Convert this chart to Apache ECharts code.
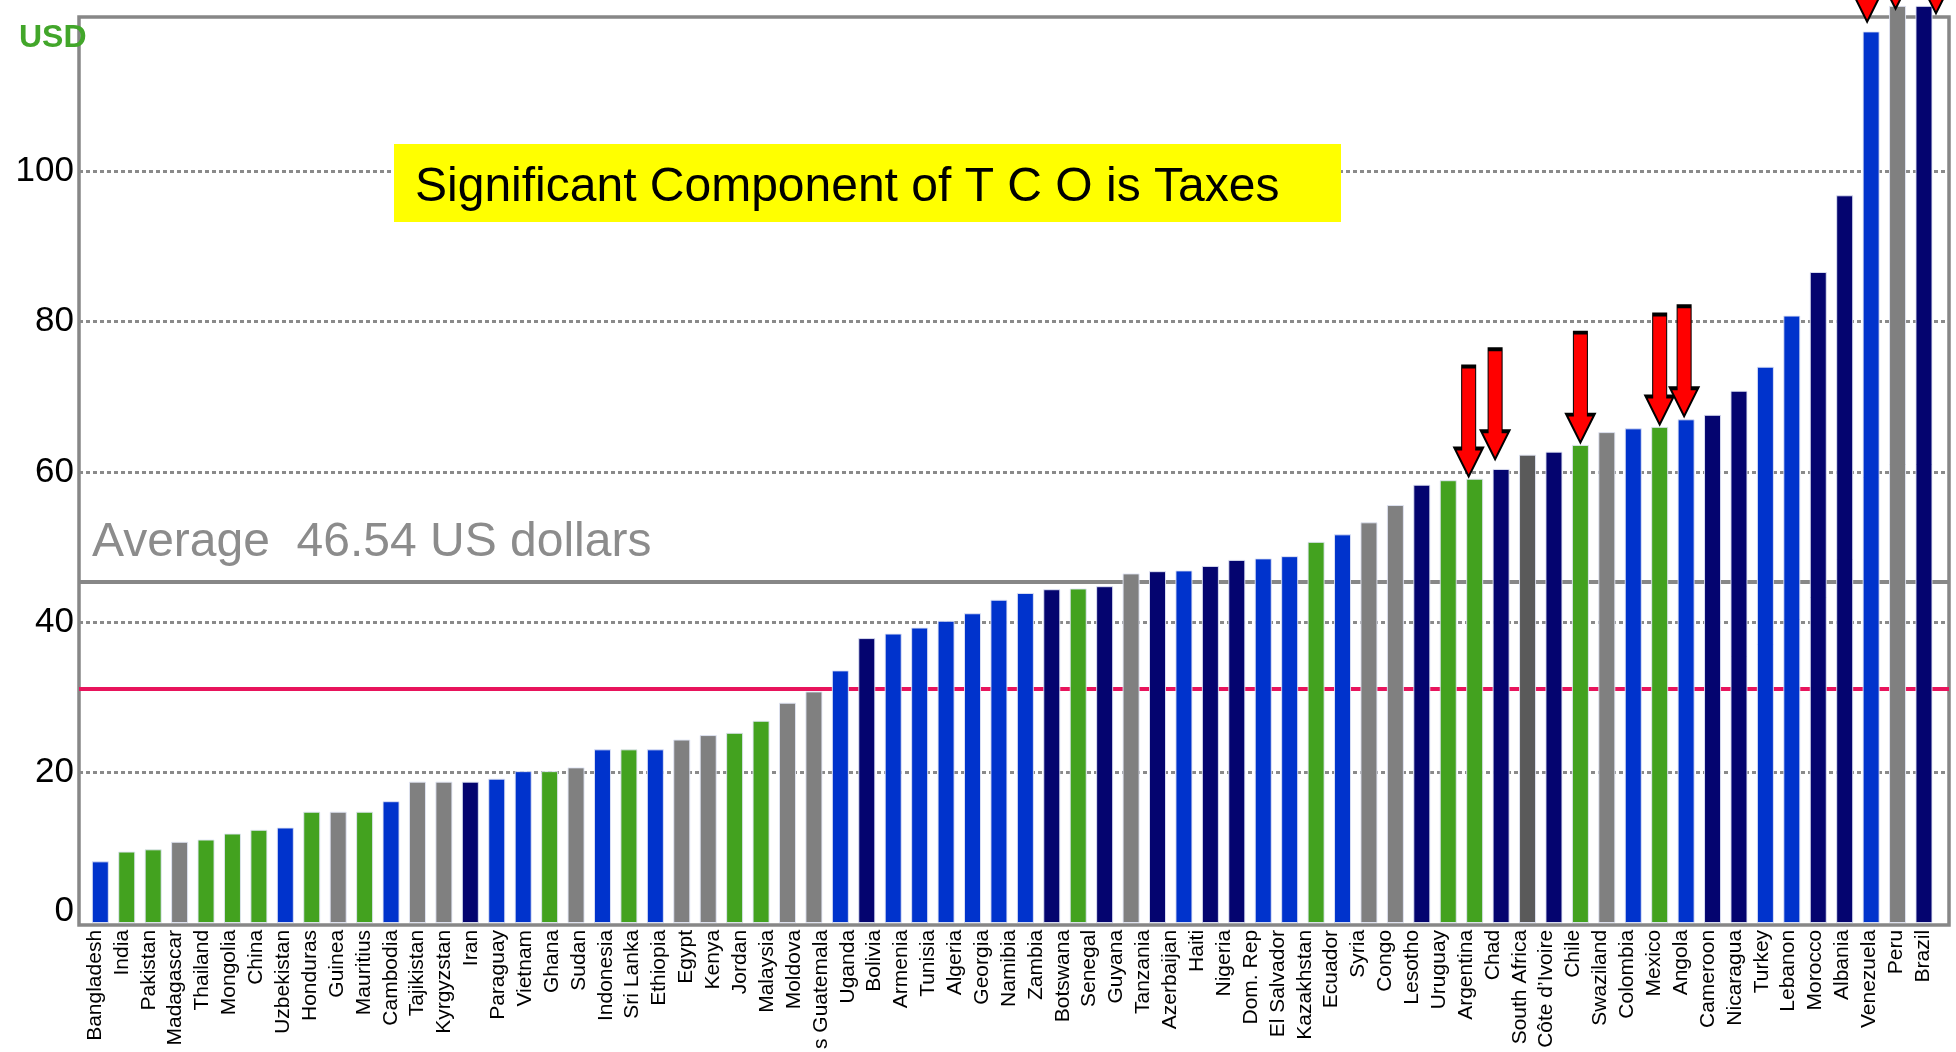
<!DOCTYPE html>
<html>
<head>
<meta charset="utf-8">
<script src="https://cdn.jsdelivr.net/npm/echarts@6/dist/echarts.min.js"></script>
<style>
html,body{margin:0;padding:0;background:#fff;}
#chart{width:1956px;height:1052px;}
</style>
</head>
<body>
<div id="chart"></div>
<script>
// ---- data ----
const countryLabels = ['Bangladesh','India','Pakistan','Madagascar','Thailand','Mongolia','China','Uzbekistan','Honduras','Guinea','Mauritius','Cambodia','Tajikistan','Kyrgyzstan','Iran','Paraguay','Vietnam','Ghana','Sudan','Indonesia','Sri Lanka','Ethiopia','Egypt','Kenya','Jordan','Malaysia','Moldova','s Guatemala','Uganda','Bolivia','Armenia','Tunisia','Algeria','Georgia','Namibia','Zambia','Botswana','Senegal','Guyana','Tanzania','Azerbaijan','Haiti','Nigeria','Dom. Rep','El Salvador','Kazakhstan','Ecuador','Syria','Congo','Lesotho','Uruguay','Argentina','Chad','South Africa','Côte d\u2019Ivoire','Chile','Swaziland','Colombia','Mexico','Angola','Cameroon','Nicaragua','Turkey','Lebanon','Morocco','Albania','Venezuela','Peru','Brazil'];

const barValues = [8.2, 9.5, 9.8, 10.8, 11.1, 11.9, 12.4, 12.7, 14.8, 14.8,
  14.8, 16.2, 18.8, 18.8, 18.8, 19.2, 20.2, 20.2, 20.7, 23.1,
  23.1, 23.1, 24.4, 25.0, 25.3, 26.9, 29.3, 30.8, 33.6, 37.9,
  38.5, 39.3, 40.2, 41.2, 43.0, 43.9, 44.4, 44.5, 44.8, 46.5,
  46.8, 46.9, 47.5, 48.3, 48.5, 48.8, 50.7, 51.7, 53.3, 55.6,
  58.3, 58.9, 59.1, 60.4, 62.3, 62.7, 63.6, 65.3, 65.8, 66.0,
  67.0, 67.6, 70.8, 74.0, 80.8, 86.6, 96.8, 118.6, 122.0, 122.0];

const barGroups = ['blue','green','green','gray','green','green','green','blue','green','gray',
  'green','blue','gray','gray','navy','blue','blue','green','gray','blue',
  'green','blue','gray','gray','green','green','gray','gray','blue','navy',
  'blue','blue','blue','blue','blue','blue','navy','green','navy','gray',
  'navy','blue','navy','navy','blue','blue','green','blue','gray','gray',
  'navy','green','green','navy','dark','navy','green','gray','blue','green',
  'blue','navy','navy','blue','blue','navy','navy','blue','gray','navy'];

const barSlots = barValues.map((v, i) => 'bar ' + (i + 1));

const yTickValues = [0, 20, 40, 60, 80, 100];
const averageLineValue = 45.4;
const pinkLineValue = 31.2;

// arrows: [bar slot index, value the arrow tip points at]
const arrowTargets = [[52, 59.4], [53, 61.7], [56, 63.9], [59, 66.3], [60, 67.4], [67, 119.9], [68, 121.6], [69, 121.0]];

// ---- styling ----
const palette = {blue:'#0033CC', navy:'#04046F', green:'#43A21F', gray:'#808080', dark:'#5A5A5A'};
const arrowShiftX = [-6, -6, 0, 0, -2, -4, -2, 12];
const FONT = '"Liberation Sans", Arial, sans-serif';
const Y_TOP = 20.9, Y_BOTTOM = 1052 - 923;

const chart = echarts.init(document.getElementById('chart'), null, {renderer:'canvas'});

const arrowPath = 'path://M7,0 L21,0 L21,82 L28,82 L14,110 L0,82 L7,82 Z';

const option = {
  animation: false,
  backgroundColor: '#ffffff',
  grid: [
    {left: 79, right: 7, top: 17, bottom: 127, show: true, borderColor: '#878787', borderWidth: 3.5, backgroundColor: 'transparent'},
    {left: 79, right: 7, top: Y_TOP, bottom: Y_BOTTOM},
    {left: 87.1, right: 18.8, top: Y_TOP, bottom: Y_BOTTOM},
    {left: 95, right: 33, top: Y_TOP, bottom: Y_BOTTOM}
  ],
  xAxis: [
    {gridIndex: 0, type: 'value', show: false, min: 0, max: 1},
    {gridIndex: 1, type: 'value', show: false, min: 0, max: 1},
    {gridIndex: 2, type: 'category', data: barSlots, show: false, boundaryGap: true},
    {gridIndex: 3, type: 'category', data: countryLabels, boundaryGap: false,
      axisLine: {show: false}, axisTick: {show: false}, splitLine: {show: false},
      axisLabel: {interval: 0, rotate: 90, fontSize: 21, fontFamily: FONT, color: '#000', margin: 7}}
  ],
  yAxis: [
    {gridIndex: 0, type: 'value', show: false, min: 0, max: 1},
    {gridIndex: 1, type: 'value', min: 0, max: 120, interval: 20,
      axisLine: {show: false}, axisTick: {show: false},
      splitLine: {show: true, showMinLine: false, showMaxLine: false,
        lineStyle: {color: '#8a8a8a', width: 3, type: [4, 3]}},
      axisLabel: {
        fontSize: 35, fontFamily: FONT, color: '#000', margin: 5,
        formatter: v => yTickValues.indexOf(v) < 0 ? '' : (v === 0 ? '{z|0}' : String(v)),
        rich: {z: {fontSize: 35, fontFamily: FONT, color: '#000', padding: [0, 0, 24, 0]}}
      }},
    {gridIndex: 2, type: 'value', show: false, min: 0, max: 120},
    {gridIndex: 3, type: 'value', show: false, min: 0, max: 120}
  ],
  series: [
    {
      name: 'reference lines', type: 'line', xAxisIndex: 1, yAxisIndex: 1, data: [], z: 1,
      markLine: {
        silent: true, symbol: ['none', 'none'], z: 1, label: {show: false},
        data: [
          {yAxis: averageLineValue, lineStyle: {color: '#878787', width: 4, type: 'solid'}},
          {yAxis: pinkLineValue, lineStyle: {color: '#E8145C', width: 4, type: 'solid'}}
        ]
      }
    },
    {
      name: 'TCO', type: 'bar', xAxisIndex: 2, yAxisIndex: 2, z: 3, clip: false,
      barWidth: 17,
      data: barValues.map((v, i) => ({value: v, itemStyle: {color: palette[barGroups[i]]}})),
      itemStyle: {borderColor: 'rgba(225,230,245,0.9)', borderWidth: 1}
    },
    {
      name: 'arrows', type: 'scatter', xAxisIndex: 2, yAxisIndex: 2, z: 6, clip: false,
      symbol: arrowPath, symbolSize: [28, 110],
      itemStyle: {color: '#FF0000', borderColor: '#000000', borderWidth: 2, opacity: 1},
      data: arrowTargets.map((a, i) => ({value: a, symbolOffset: [arrowShiftX[i], -55]}))
    }
  ],
  graphic: [
    {type: 'rect', z: 20, shape: {x: 394, y: 144, width: 947, height: 78}, style: {fill: '#FFFF00'}},
    {type: 'text', z: 21, x: 415, y: 188, style: {text: 'Significant Component of T C O is Taxes', fontSize: 48, fontFamily: FONT, fill: '#000', verticalAlign: 'middle', align: 'left'}},
    {type: 'text', z: 21, x: 92, y: 543, style: {text: 'Average  46.54 US dollars', fontSize: 48, fontFamily: FONT, fill: '#8C8C8C', verticalAlign: 'middle', align: 'left'}},
    {type: 'text', z: 21, x: 19, y: 38, style: {text: 'USD', fontSize: 32, fontWeight: 'bold', fontFamily: FONT, fill: '#42A62A', verticalAlign: 'middle', align: 'left'}}
  ]
};
chart.setOption(option);
</script>
</body>
</html>
